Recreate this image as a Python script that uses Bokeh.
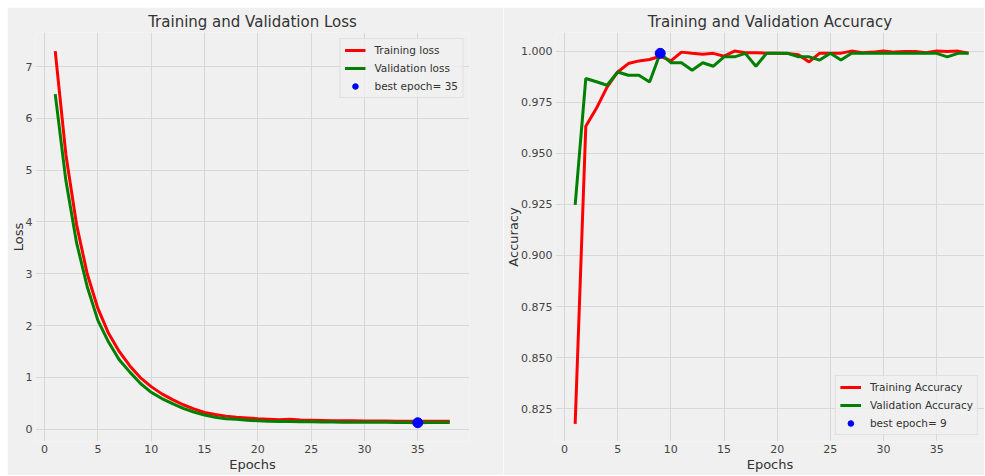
from bokeh.plotting import figure
from bokeh.layouts import row
from bokeh.models import Legend, LegendItem, FixedTicker, NumeralTickFormatter, Range1d
from bokeh.embed import file_html
from bokeh.resources import INLINE

epochs = list(range(1, 39))

train_loss = [7.30, 5.30, 3.95, 3.00, 2.33, 1.85, 1.50, 1.22, 0.99, 0.82,
              0.68, 0.57, 0.47, 0.39, 0.32, 0.28, 0.25, 0.23, 0.215, 0.20,
              0.19, 0.18, 0.19, 0.175, 0.17, 0.165, 0.16, 0.16, 0.16, 0.155,
              0.155, 0.155, 0.15, 0.15, 0.15, 0.15, 0.15, 0.15]
val_loss = [6.47, 4.80, 3.60, 2.75, 2.10, 1.68, 1.34, 1.10, 0.88, 0.71,
            0.59, 0.49, 0.40, 0.33, 0.27, 0.23, 0.20, 0.19, 0.17, 0.16,
            0.15, 0.145, 0.145, 0.14, 0.14, 0.135, 0.135, 0.13, 0.13, 0.13,
            0.13, 0.13, 0.125, 0.125, 0.122, 0.125, 0.125, 0.125]

train_acc = [0.8176, 0.9632, 0.9720, 0.9824, 0.9898, 0.9939, 0.9952, 0.9959, 0.9975, 0.9952,
             0.9995, 0.9989, 0.9985, 0.9989, 0.9975, 1.0000, 0.9992, 0.9992, 0.9990, 0.9990,
             0.9988, 0.9982, 0.9947, 0.9990, 0.9990, 0.9990, 1.0000, 0.9992, 0.9995, 1.0000,
             0.9995, 0.9998, 0.9998, 0.9992, 1.0000, 0.9998, 1.0000, 0.9990]
val_acc = [0.9248, 0.9866, 0.9850, 0.9833, 0.9898, 0.9882, 0.9882, 0.9849, 0.9989, 0.9943,
           0.9943, 0.9906, 0.9943, 0.9926, 0.9972, 0.9972, 0.9989, 0.9926, 0.9989, 0.9989,
           0.9989, 0.9972, 0.9972, 0.9956, 0.9989, 0.9956, 0.9989, 0.9989, 0.9989, 0.9989,
           0.9989, 0.9989, 0.9989, 0.9989, 0.9989, 0.9972, 0.9989, 0.9989]

best_loss_epoch = 35
best_acc_epoch = 9

loss_ticks_y = [0, 1, 2, 3, 4, 5, 6, 7]
acc_ticks_y = [0.825, 0.850, 0.875, 0.900, 0.925, 0.950, 0.975, 1.000]
x_ticks = [0, 5, 10, 15, 20, 25, 30, 35]

BG = "#f0f0f0"
GRID = "#d8d8d8"
FONT = "DejaVu Sans"
TXT = "#333333"


def style(p, xlabel, ylabel):
    p.background_fill_color = BG
    p.border_fill_color = BG
    p.outline_line_color = None
    p.title.text_font = FONT
    p.title.text_font_size = "15px"
    p.title.text_font_style = "normal"
    p.title.text_color = TXT
    p.title.align = "center"
    p.title.offset = 0
    p.title.standoff = 4
    for ax in (p.xaxis[0], p.yaxis[0]):
        ax.axis_line_color = None
        ax.major_tick_line_color = None
        ax.minor_tick_line_color = None
        ax.major_tick_out = 0
        ax.major_tick_in = 0
        ax.minor_tick_out = 0
        ax.minor_tick_in = 0
        ax.major_label_text_font = FONT
        ax.major_label_text_font_size = "11px"
        ax.major_label_text_color = "#444444"
        ax.major_label_standoff = 3
        ax.axis_label_text_font = FONT
        ax.axis_label_text_font_size = "13px"
        ax.axis_label_text_font_style = "normal"
        ax.axis_label_text_color = TXT
        ax.axis_label_standoff = 1
    p.yaxis[0].axis_label_standoff = -3
    p.yaxis[0].major_label_standoff = 3
    p.xaxis[0].axis_label = xlabel
    p.yaxis[0].axis_label = ylabel
    p.xaxis[0].ticker = FixedTicker(ticks=x_ticks)
    p.xgrid.grid_line_color = GRID
    p.ygrid.grid_line_color = GRID
    p.xgrid.grid_line_width = 1
    p.ygrid.grid_line_width = 1


def make_legend(p, items, location):
    lg = Legend(items=items, location=location)
    lg.margin = 6
    lg.padding = 4
    lg.spacing = 4
    lg.label_height = 14
    lg.glyph_height = 14
    lg.glyph_width = 21
    lg.label_standoff = 9
    lg.label_text_font = FONT
    lg.label_text_font_size = "10.5px"
    lg.label_text_color = TXT
    lg.background_fill_color = BG
    lg.background_fill_alpha = 0.8
    lg.border_line_color = "#d0d0d0"
    lg.border_line_width = 1
    p.add_layout(lg, "center")


# ---------- Loss plot ----------
p1 = figure(width=496, height=468, output_backend="svg", toolbar_location=None,
            title="Training and Validation Loss",
            x_range=Range1d(-0.85, 39.85), y_range=Range1d(-0.24, 7.66),
            min_border_left=25, min_border_right=34, min_border_top=25, min_border_bottom=34)
p1.margin = (7, 0, 0, 7)
style(p1, "Epochs", "Loss")
p1.yaxis[0].ticker = FixedTicker(ticks=loss_ticks_y)
r1 = p1.line(epochs, train_loss, line_color="red", line_width=3)
r2 = p1.line(epochs, val_loss, line_color="green", line_width=3)
r3 = p1.scatter([best_loss_epoch], [val_loss[best_loss_epoch - 1]], size=10,
                fill_color="blue", line_color="blue")
make_legend(p1, [LegendItem(label="Training loss", renderers=[r1]),
                 LegendItem(label="Validation loss", renderers=[r2]),
                 LegendItem(label="best epoch= " + str(best_loss_epoch), renderers=[r3])],
            "top_right")

# ---------- Accuracy plot ----------
p2 = figure(width=481, height=468, output_backend="svg", toolbar_location=None,
            title="Training and Validation Accuracy",
            x_range=Range1d(-0.85, 39.5), y_range=Range1d(0.809, 1.0091),
            min_border_left=40, min_border_right=0, min_border_top=25, min_border_bottom=34)
p2.margin = (7, 0, 0, 0)
style(p2, "Epochs", "Accuracy")
p2.yaxis[0].ticker = FixedTicker(ticks=acc_ticks_y)
p2.yaxis[0].formatter = NumeralTickFormatter(format="0.000")
a1 = p2.line(epochs, train_acc, line_color="red", line_width=3)
a2 = p2.line(epochs, val_acc, line_color="green", line_width=3)
a3 = p2.scatter([best_acc_epoch], [val_acc[best_acc_epoch - 1]], size=10,
                fill_color="blue", line_color="blue")
make_legend(p2, [LegendItem(label="Training Accuracy", renderers=[a1]),
                 LegendItem(label="Validation Accuracy", renderers=[a2]),
                 LegendItem(label="best epoch= " + str(best_acc_epoch), renderers=[a3])],
            "bottom_right")

layout = row(p1, p2)
open("out.html", "w").write(file_html(layout, INLINE))
